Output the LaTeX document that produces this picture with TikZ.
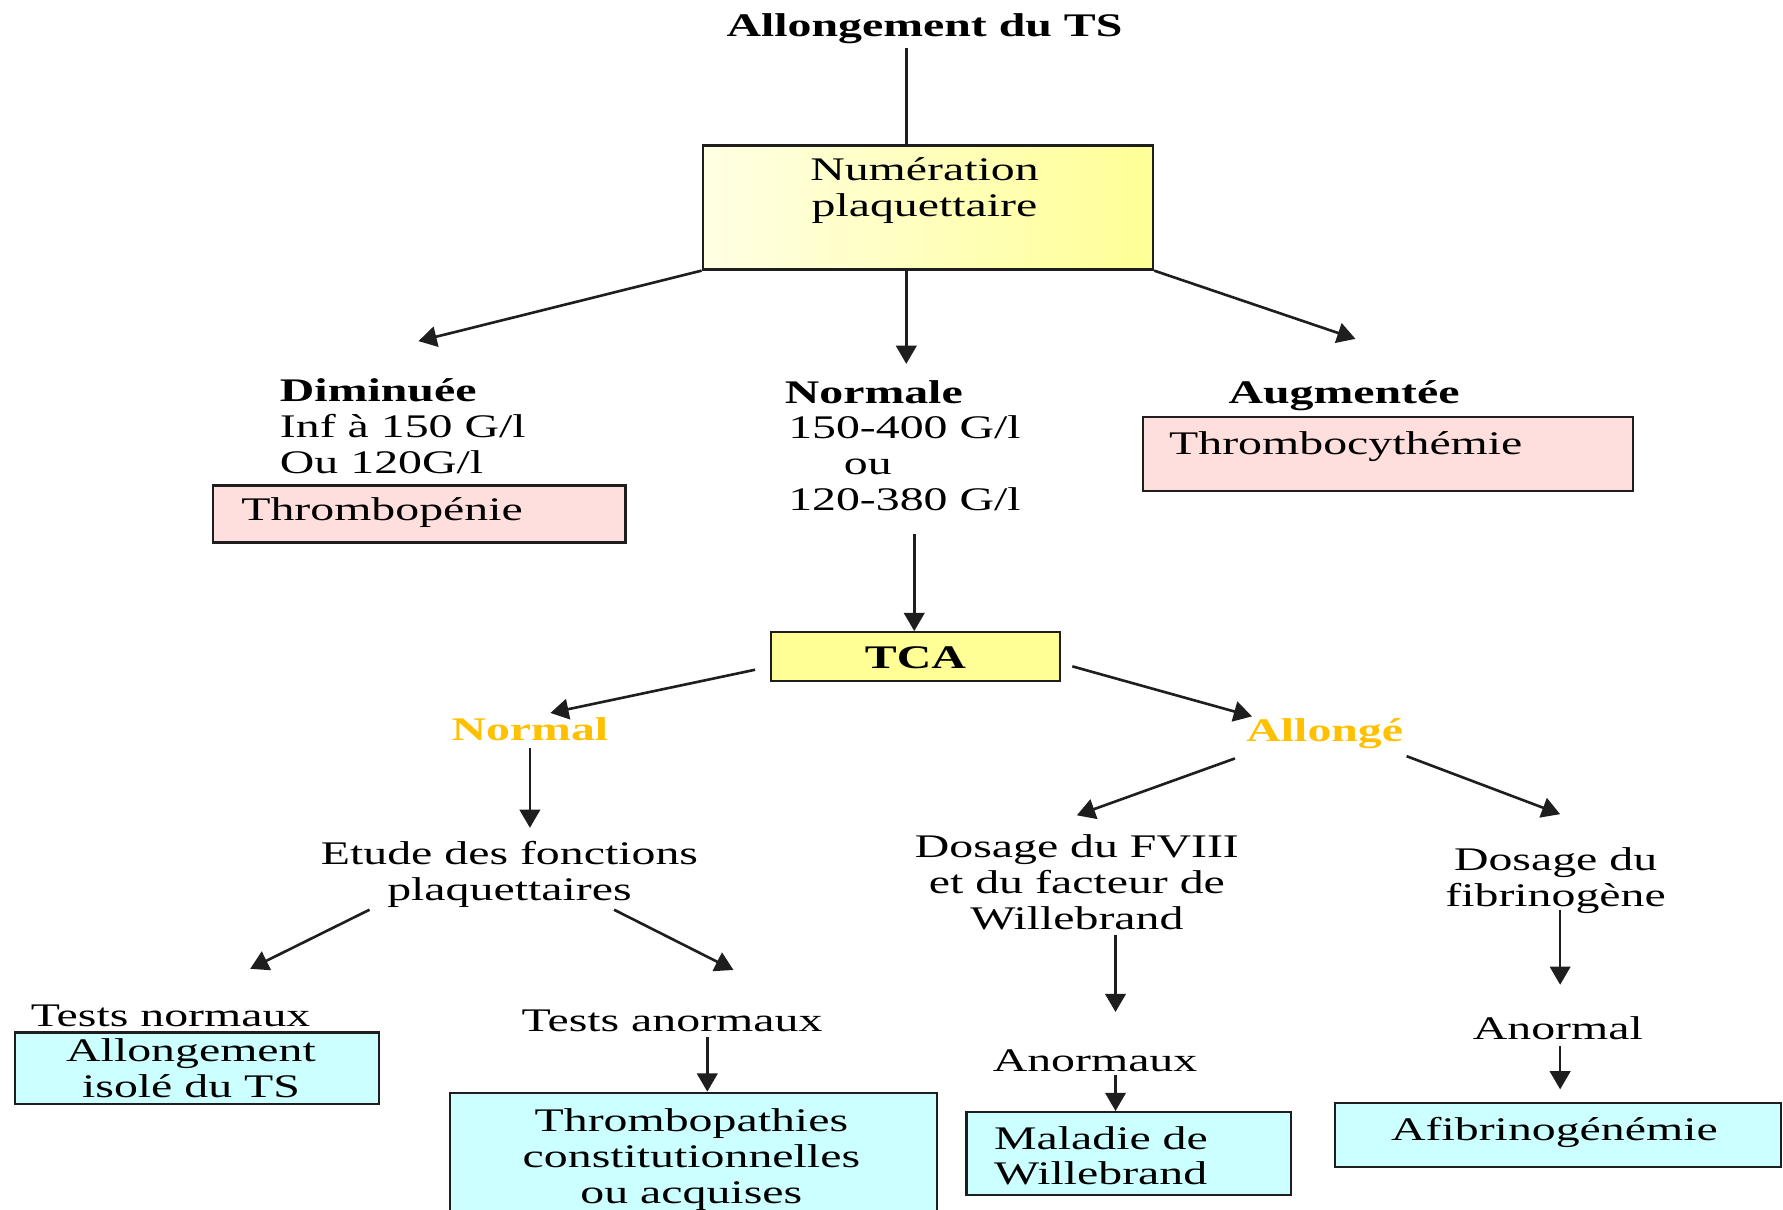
\documentclass[tikz,border=0pt]{standalone}
\usepackage{fontspec}
\setmainfont{Liberation Serif}[FakeStretch=1.45]
\usetikzlibrary{arrows.meta}
\definecolor{lineblack}{RGB}{30,30,30}
\definecolor{pinkfill}{RGB}{255,222,222}
\definecolor{cyanfill}{RGB}{204,255,255}
\definecolor{yel}{RGB}{255,255,150}
\definecolor{yellight}{RGB}{255,255,228}
\definecolor{goldtxt}{RGB}{255,192,0}
\begin{document}
\begin{tikzpicture}[x=1pt,y=-1pt,
  font=\fontsize{29}{31.5}\selectfont,
  lbl/.style={inner sep=0pt, anchor=base, align=center},
  lbll/.style={inner sep=0pt, anchor=base west, align=left},
  boxn/.style={draw=lineblack, line width=2pt, inner sep=0pt, anchor=north west},
  arr/.style={draw=lineblack, line width=2.3pt, -{Triangle[length=16pt,width=18pt]}},
  ln/.style={draw=lineblack, line width=2.3pt},
]
\useasboundingbox (0,0) rectangle (1568,1064);
\fill[white] (0,0) rectangle (1568,1064);
\clip (0,0) rectangle (1568,1064);

% ---------- boxes ----------
\node[boxn, minimum width=396pt, minimum height=109pt, left color=yellight, right color=yel] (num) at (617,127) {};
\node[boxn, fill=pinkfill, minimum width=363pt, minimum height=50pt] (thrp) at (186,426) {};
\node[boxn, fill=pinkfill, minimum width=431pt, minimum height=65pt] (thrc) at (1004,366) {};
\node[boxn, fill=yel, minimum width=254pt, minimum height=43pt] (tca) at (677,555) {};
\node[boxn, fill=cyanfill, minimum width=320pt, minimum height=63pt] (isol) at (12,907) {};
\node[boxn, fill=cyanfill, minimum width=428pt, minimum height=120pt] (thpa) at (395,960) {};
\node[boxn, fill=cyanfill, minimum width=285pt, minimum height=73pt] (mal) at (849,977) {};
\node[boxn, fill=cyanfill, minimum width=392pt, minimum height=56pt] (afib) at (1173,969) {};

% ---------- texts (multi-line: position = baseline of last line) ----------
\node[lbl] (title) at (813,32) {\bfseries Allongement du TS};
\node[lbl] (numT) at (813,190) {Numération\\plaquettaire};
\node[lbll] (dim) at (246,416) {\textbf{Diminuée}\\Inf à 150 G/l\\Ou 120G/l};
\node[lbll] (thrpT) at (212,458) {Thrombopénie};
\node[lbll] (norm) at (690,449) {\textbf{Normale}\\\hspace*{3pt}150-400 G/l\\\hspace*{52pt}ou\\\hspace*{3pt}120-380 G/l};
\node[lbl] (aug) at (1182,355) {\bfseries Augmentée};
\node[lbll] (thrcT) at (1028,400) {Thrombocythémie};
\node[lbl] (tcaT) at (805,588) {\bfseries TCA};
\node[lbl, text=goldtxt] (gnorm) at (466,651) {\bfseries Normal};
\node[lbl, text=goldtxt] (gall) at (1165,652) {\bfseries Allongé};
\node[lbl] (etude) at (448,792) {Etude des fonctions\\plaquettaires};
\node[lbl] (dfviii) at (947,817) {Dosage du FVIII\\et du facteur de\\Willebrand};
\node[lbl] (dfib) at (1368,797) {Dosage du\\fibrinogène};
\node[lbl] (tnorm) at (150,903) {Tests normaux};
\node[lbl] (isolT) at (168,965) {Allongement\\isolé du TS};
\node[lbl] (tanorm) at (591,907) {Tests anormaux};
\node[lbl] (thpaT) at (608,1058) {Thrombopathies\\constitutionnelles\\ou acquises};
\node[lbl] (anx) at (963,942) {Anormaux};
\node[lbll] (malT) at (874,1042) {Maladie de\\Willebrand};
\node[lbl] (anl) at (1370,914) {Anormal};
\node[lbl] (afibT) at (1367,1003) {Afibrinogénémie};

% ---------- connector ends ----------
\coordinate (cTop) at (797,42);
\coordinate (eDim) at (368,300);
\coordinate (eNorm) at (797,320);
\coordinate (eAug) at (1192,298);
\coordinate (sTca) at (804,470);
\coordinate (sL) at (664,589);
\coordinate (eL) at (484,627);
\coordinate (sR) at (943,586);
\coordinate (eR) at (1101,630);
\coordinate (sEt) at (466,658);
\coordinate (eEt) at (466,728);
\coordinate (sTn) at (325,800);
\coordinate (eTn) at (220,852);
\coordinate (sTa) at (540,800);
\coordinate (eTa) at (645,853);
\coordinate (sF8) at (1086,667);
\coordinate (eF8) at (947,717);
\coordinate (sFi) at (1237,665);
\coordinate (eFi) at (1372,716);
\coordinate (sAx) at (981,822);
\coordinate (eAx) at (981,890);
\coordinate (sAl) at (1372,800);
\coordinate (eAl) at (1372,866);
\coordinate (sTp) at (622,912);
\coordinate (sMa) at (981,945);
\coordinate (sAf) at (1372,920);
\coordinate (eAf) at (1372,958);

% ---------- connectors ----------
\draw[ln] (cTop) -- (cTop |- num.north);
\draw[arr] (num.south west) -- (eDim);
\draw[arr] (cTop |- num.south) -- (eNorm);
\draw[arr] (num.south east) -- (eAug);
\draw[arr] (sTca) -- (sTca |- tca.north);
\draw[arr] (sL) -- (eL);
\draw[arr] (sR) -- (eR);
\draw[arr] (sEt) -- (eEt);
\draw[arr] (sTn) -- (eTn);
\draw[arr] (sTa) -- (eTa);
\draw[arr] (sF8) -- (eF8);
\draw[arr] (sFi) -- (eFi);
\draw[arr] (sAx) -- (eAx);
\draw[arr] (sAl) -- (eAl);
\draw[arr] (sTp) -- (sTp |- thpa.north);
\draw[arr] (sMa) -- (sMa |- mal.north);
\draw[arr] (sAf) -- (eAf);
\end{tikzpicture}
\end{document}
